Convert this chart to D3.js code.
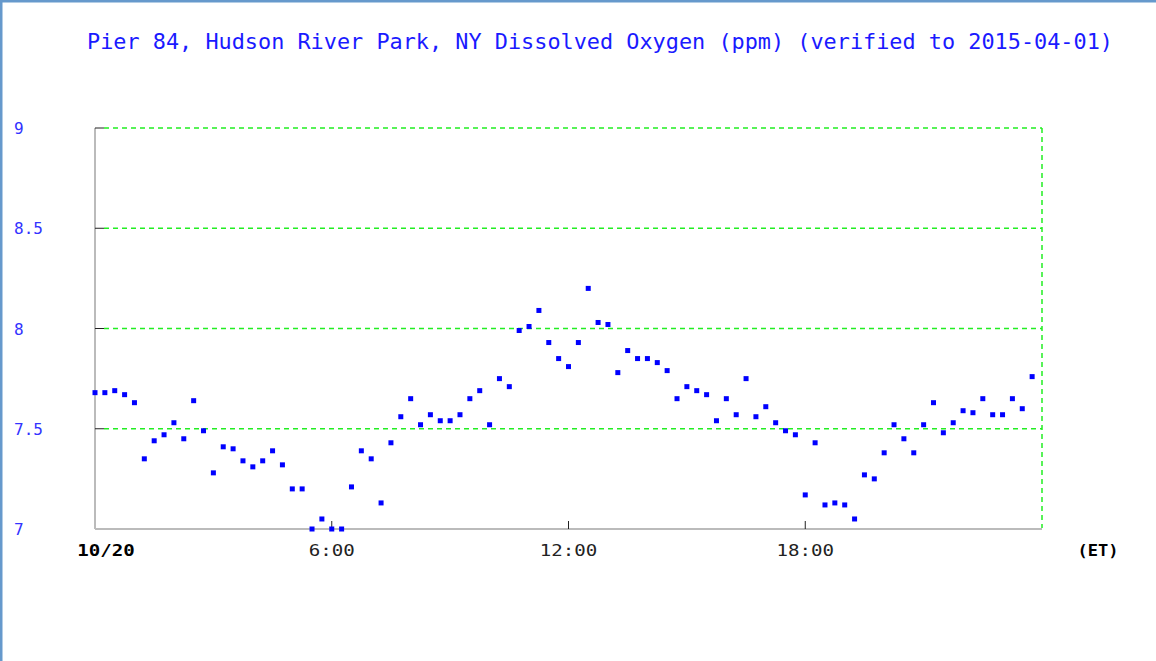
<!DOCTYPE html>
<html>
<head>
<meta charset="utf-8">
<script src="https://cdn.jsdelivr.net/npm/d3@7"></script>
<style>
  body { margin: 0; background: #fff; }
  svg { display: block; }
</style>
</head>
<body>
<svg id="chart" width="1156" height="661"></svg>
<script>
// Chart text
const title = "Pier 84, Hudson River Park, NY Dissolved Oxygen (ppm) (verified to 2015-04-01)";
const yTicks = [7, 7.5, 8, 8.5, 9];
const xTickHours = [0, 6, 12, 18];
const xTickLabels = ["10/20", "6:00", "12:00", "18:00"];
const unitLabel = "(ET)";

// Dissolved oxygen readings every 15 minutes, 0:00 to 23:45
const oxygen = [
  7.68, 7.68, 7.69, 7.67, 7.63, 7.35, 7.44, 7.47, 7.53, 7.45, 7.64, 7.49,
  7.28, 7.41, 7.40, 7.34, 7.31, 7.34, 7.39, 7.32, 7.20, 7.20, 7.00, 7.05,
  7.00, 7.00, 7.21, 7.39, 7.35, 7.13, 7.43, 7.56, 7.65, 7.52, 7.57, 7.54,
  7.54, 7.57, 7.65, 7.69, 7.52, 7.75, 7.71, 7.99, 8.01, 8.09, 7.93, 7.85,
  7.81, 7.93, 8.20, 8.03, 8.02, 7.78, 7.89, 7.85, 7.85, 7.83, 7.79, 7.65,
  7.71, 7.69, 7.67, 7.54, 7.65, 7.57, 7.75, 7.56, 7.61, 7.53, 7.49, 7.47,
  7.17, 7.43, 7.12, 7.13, 7.12, 7.05, 7.27, 7.25, 7.38, 7.52, 7.45, 7.38,
  7.52, 7.63, 7.48, 7.53, 7.59, 7.58, 7.65, 7.57, 7.57, 7.65, 7.60, 7.76
];
const hours = oxygen.map((d, i) => i * 0.25);

const svg = d3.select("#chart");

// Page frame (left and top border)
svg.append("rect").attr("x", 1).attr("y", 1).attr("width", 1200).attr("height", 700)
  .attr("fill", "none").attr("stroke", "#6699cc").attr("stroke-width", 3);

const plotLeft = 95, plotRight = 1042, plotTop = 128, plotBottom = 529;
const x = d3.scaleLinear().domain([0, 24]).range([plotLeft, plotRight]);
const y = d3.scaleLinear().domain([7, 9]).range([plotBottom, plotTop]);

// Title
svg.append("text")
  .attr("x", 87).attr("y", 49)
  .attr("textLength", 1026).attr("lengthAdjust", "spacingAndGlyphs")
  .attr("font-family", "DejaVu Sans Mono").attr("font-size", 21)
  .attr("fill", "#1a1aff")
  .text(title);

// Horizontal dashed gridlines
svg.append("g").selectAll("line")
  .data(yTicks.filter(d => d > 7))
  .enter().append("line")
  .attr("x1", plotLeft + 9).attr("x2", plotRight)
  .attr("y1", d => y(d)).attr("y2", d => y(d))
  .attr("stroke", "#22ee22").attr("stroke-width", 1.5)
  .attr("stroke-dasharray", "5,4");

// Right dashed border
svg.append("line")
  .attr("x1", plotRight).attr("x2", plotRight)
  .attr("y1", plotTop).attr("y2", plotBottom - 1)
  .attr("stroke", "#22ee22").attr("stroke-width", 1.5)
  .attr("stroke-dasharray", "5,4");

// Axis lines (gray)
svg.append("line").attr("x1", plotLeft).attr("x2", plotLeft).attr("y1", plotTop).attr("y2", plotBottom)
  .attr("stroke", "#bbbbbb").attr("stroke-width", 2);
svg.append("line").attr("x1", plotLeft).attr("x2", plotRight).attr("y1", plotBottom).attr("y2", plotBottom)
  .attr("stroke", "#bbbbbb").attr("stroke-width", 2);

// Y ticks (short black marks) and labels
svg.append("g").selectAll("line")
  .data(yTicks.filter(d => d > 7))
  .enter().append("line")
  .attr("x1", plotLeft).attr("x2", plotLeft + 9)
  .attr("y1", d => y(d)).attr("y2", d => y(d))
  .attr("stroke", "#222").attr("stroke-width", 1);

svg.append("g").selectAll("text")
  .data(yTicks)
  .enter().append("text")
  .attr("x", 14).attr("y", d => y(d) + 6)
  .attr("font-family", "DejaVu Sans Mono").attr("font-size", 16)
  .attr("fill", "#3333ff")
  .text(d => d);

// X ticks and labels
svg.append("g").selectAll("line")
  .data(xTickHours.filter(d => d > 0))
  .enter().append("line")
  .attr("x1", d => x(d)).attr("x2", d => x(d))
  .attr("y1", plotBottom - 8).attr("y2", plotBottom)
  .attr("stroke", "#222").attr("stroke-width", 1);

svg.append("g").selectAll("text")
  .data(xTickHours)
  .enter().append("text")
  .attr("x", d => x(d) + (d === 0 ? 11 : 0)).attr("y", 556)
  .attr("text-anchor", "middle")
  .attr("textLength", (d, i) => xTickLabels[i].length * 11.5)
  .attr("lengthAdjust", "spacingAndGlyphs")
  .attr("font-family", "DejaVu Sans Mono").attr("font-size", 16)
  .attr("font-weight", (d, i) => i === 0 ? "bold" : "normal")
  .attr("fill", (d, i) => i === 0 ? "#000" : "#222")
  .text((d, i) => xTickLabels[i]);

svg.append("text")
  .attr("x", 1098).attr("y", 556)
  .attr("text-anchor", "middle")
  .attr("textLength", 41).attr("lengthAdjust", "spacingAndGlyphs")
  .attr("font-family", "DejaVu Sans Mono").attr("font-size", 16)
  .attr("font-weight", "bold").attr("fill", "#000")
  .text(unitLabel);

// Data points
svg.append("g").selectAll("rect")
  .data(oxygen)
  .enter().append("rect")
  .attr("x", (d, i) => x(hours[i]) - 2.5)
  .attr("y", d => y(d) - 2.5)
  .attr("width", 5).attr("height", 5)
  .attr("fill", "#0000ff");
</script>
</body>
</html>
